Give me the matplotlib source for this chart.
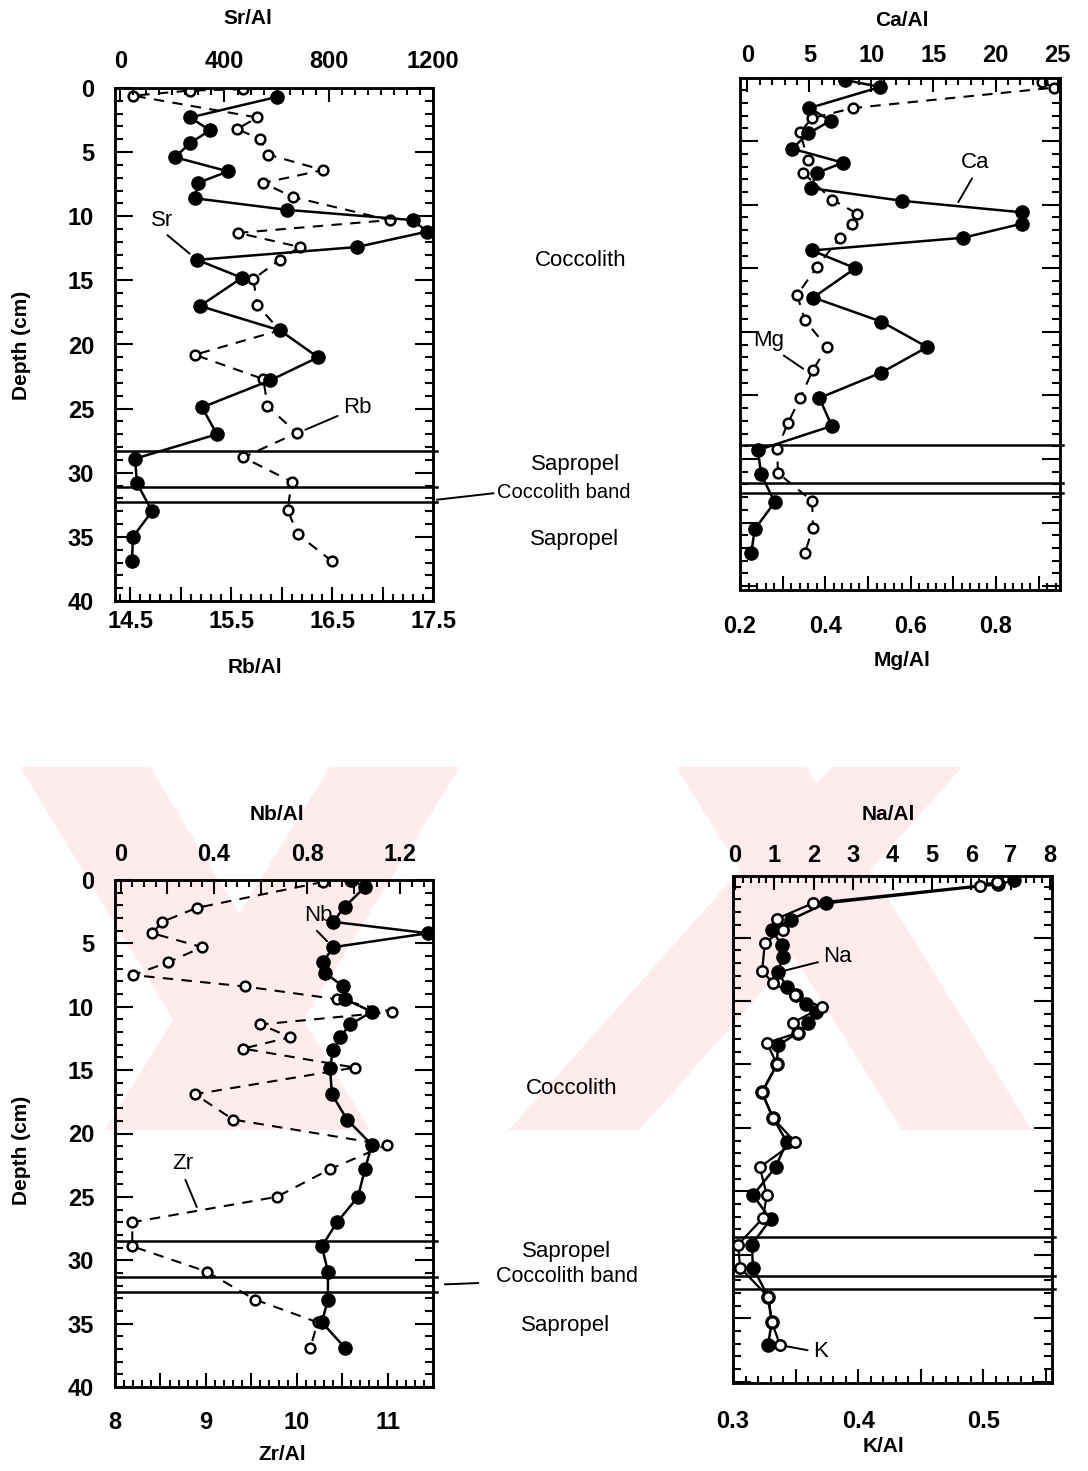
import matplotlib
matplotlib.use("Agg")
import matplotlib.pyplot as plt
import matplotlib.transforms as mtransforms
from matplotlib.ticker import MultipleLocator, FuncFormatter
from matplotlib.patches import Polygon

plt.rcParams['font.family'] = ['Liberation Sans', 'DejaVu Sans']
plt.rcParams['font.weight'] = 'bold'

W, H = 1088, 1471

# ---- Sr/Al (top axis) and Rb/Al (bottom axis) ----
sr_depth = [0.7, 2.3, 3.3, 4.3, 5.4, 6.5, 7.4, 8.6, 9.5, 10.3, 11.2, 12.4, 13.4,
            14.8, 17.0, 18.9, 21.0, 22.8, 24.9, 27.0, 28.9, 30.8, 33.0, 35.0, 36.9]
sr = [600, 268, 344, 268, 210, 414, 298, 287, 640, 1123, 1177, 908, 295,
      467, 306, 613, 759, 575, 314, 371, 57, 64, 122, 49, 45]
rb_depth = [0.1, 0.2, 0.6, 2.3, 3.2, 4.0, 5.2, 6.4, 7.4, 8.5, 10.3, 11.3, 12.4,
            13.4, 14.9, 16.9, 18.9, 20.8, 22.7, 24.8, 26.9, 28.8, 30.7, 32.9, 34.8, 36.9]
rb = [15.62, 15.09, 14.53, 15.76, 15.56, 15.79, 15.87, 16.41, 15.82, 16.11, 17.07,
      15.57, 16.18, 15.98, 15.72, 15.76, 15.98, 15.14, 15.82, 15.86, 16.15, 15.62,
      16.10, 16.06, 16.16, 16.50]

# ---- Ca/Al (top axis) and Mg/Al (bottom axis) ----
ca_depth = [0.2, 0.75, 2.4, 3.4, 4.4, 5.6, 6.7, 7.5, 8.7, 9.7, 10.6, 11.5, 12.6,
            13.6, 15.0, 17.3, 19.2, 21.2, 23.2, 25.2, 27.4, 29.3, 31.2, 33.4, 35.5, 37.4]
ca = [7.9, 10.7, 5.0, 6.7, 4.9, 3.6, 7.7, 5.6, 5.1, 12.5, 22.1, 22.1, 17.4,
      5.2, 8.7, 5.3, 10.8, 14.5, 10.8, 5.8, 6.8, 0.85, 1.1, 2.2, 0.6, 0.3]
mg_depth = [0.35, 0.8, 2.4, 3.2, 4.3, 6.5, 7.5, 9.6, 10.7, 11.5, 12.6, 14.9,
            17.1, 19.1, 21.2, 23.0, 25.2, 27.2, 29.2, 31.1, 33.3, 35.4, 37.4]
mg = [0.908, 0.936, 0.465, 0.369, 0.341, 0.359, 0.348, 0.416, 0.474, 0.462, 0.434,
      0.380, 0.334, 0.352, 0.404, 0.371, 0.341, 0.312, 0.287, 0.289, 0.369, 0.371, 0.352]

# ---- Nb/Al (top axis) and Zr/Al (bottom axis) ----
nb_depth = [0.0, 0.55, 2.1, 3.3, 4.2, 5.3, 6.5, 7.3, 8.4, 9.4, 10.4, 11.4, 12.4,
            13.4, 14.8, 16.9, 18.9, 20.9, 22.8, 25.0, 27.0, 28.9, 30.9, 33.1, 34.9, 36.9]
nb = [0.99, 1.048, 0.962, 0.911, 1.318, 0.911, 0.868, 0.876, 0.954, 0.962, 1.078,
      0.984, 0.941, 0.911, 0.898, 0.906, 0.971, 1.078, 1.048, 1.018, 0.928, 0.863,
      0.889, 0.889, 0.863, 0.962]
zr_depth = [0.15, 2.2, 3.3, 4.2, 5.3, 6.5, 7.5, 8.4, 9.4, 10.4, 11.4, 12.4, 13.3,
            14.8, 16.9, 18.9, 20.9, 22.8, 25.0, 27.0, 28.9, 30.9, 33.1, 34.9, 36.9]
zr = [10.29, 8.90, 8.52, 8.41, 8.96, 8.58, 8.20, 9.43, 10.44, 11.05, 9.60, 9.93, 9.41,
      10.64, 8.88, 9.30, 10.99, 10.37, 9.78, 8.19, 8.19, 9.01, 9.54, 10.23, 10.15]

# ---- Na/Al (top axis) and K/Al (bottom axis) ----
na_depth = [0.6, 0.9, 2.3, 3.5, 4.4, 5.4, 7.6, 8.6, 9.5, 10.5, 11.7, 12.5, 13.3,
            15.0, 17.2, 19.2, 21.1, 23.1, 25.3, 27.1, 29.2, 31.0, 33.3, 35.3, 37.1]
na = [6.65, 6.22, 1.98, 1.07, 1.22, 0.76, 0.69, 0.96, 1.52, 2.21, 1.47, 1.60, 0.81,
      1.07, 0.69, 0.96, 1.52, 0.63, 0.81, 0.71, 0.08, 0.13, 0.84, 0.94, 1.14]
k_depth = [0.5, 0.8, 2.3, 3.6, 4.4, 5.6, 6.5, 7.7, 8.9, 9.5, 10.2, 10.9, 11.7, 12.5,
           13.5, 15.0, 17.2, 19.2, 21.1, 23.1, 25.3, 27.2, 29.2, 31.0, 33.3, 35.3, 37.1]
k = [0.525, 0.512, 0.374, 0.346, 0.331, 0.339, 0.340, 0.336, 0.343, 0.350, 0.358,
     0.366, 0.360, 0.352, 0.336, 0.335, 0.323, 0.332, 0.343, 0.334, 0.316, 0.330,
     0.315, 0.316, 0.328, 0.331, 0.328]

# sapropel / coccolith band boundaries for each core section
bands_tl = [28.3, 31.15, 32.25]
bands_tr = [28.9, 31.85, 32.7]
bands_bl = [28.5, 31.3, 32.5]
bands_br = [28.6, 31.7, 32.7]


def px_box(x0, y0, x1, y1):
    return [x0 / W, 1 - y1 / H, (x1 - x0) / W, (y1 - y0) / H]


def fxy(x, y):
    return x / W, 1 - y / H


def label_every(step, first, fmt):
    def f(v, pos):
        n = (v - first) / step
        if abs(n - round(n)) < 1e-6:
            return '0' if abs(v) < 1e-9 else fmt.format(v)
        return ''
    return FuncFormatter(f)


def make_panel(box, ylim, bot_lim, top_lim, bot_major, bot_minor, top_major, top_minor,
               bot_fmt, top_fmt, depth_labels, bot_pad, top_pad):
    ax = fig.add_axes(px_box(*box))
    ax.patch.set_visible(False)
    ax.set_xlim(*bot_lim)
    ax.set_ylim(*ylim)
    top = ax.twiny()
    top.set_xlim(*top_lim)

    ax.yaxis.set_major_locator(MultipleLocator(5))
    ax.yaxis.set_minor_locator(MultipleLocator(1))
    ax.xaxis.set_major_locator(MultipleLocator(bot_major))
    ax.xaxis.set_minor_locator(MultipleLocator(bot_minor))
    ax.xaxis.set_major_formatter(bot_fmt)
    top.xaxis.set_major_locator(MultipleLocator(top_major))
    top.xaxis.set_minor_locator(MultipleLocator(top_minor))
    top.xaxis.set_major_formatter(top_fmt)

    ax.tick_params(axis='y', which='both', direction='in', left=True, right=True,
                   labelleft=depth_labels, width=1.5, pad=15, labelsize=17)
    ax.tick_params(axis='y', which='major', length=13)
    ax.tick_params(axis='y', which='minor', length=5.5)
    ax.tick_params(axis='x', which='both', direction='in', bottom=True, top=False,
                   width=1.5, pad=bot_pad, labelsize=17)
    ax.tick_params(axis='x', which='major', length=10)
    ax.tick_params(axis='x', which='minor', length=5)
    top.tick_params(axis='x', which='both', direction='in', top=True, bottom=False,
                    labeltop=True, labelbottom=False, width=1.5, pad=top_pad, labelsize=17)
    top.tick_params(axis='x', which='major', length=10)
    top.tick_params(axis='x', which='minor', length=5)
    for a in (ax, top):
        for s in a.spines.values():
            s.set_linewidth(1.8)
    return ax, top


def draw_bands(ax, depths, right=1.012):
    for d in depths:
        ax.axhline(d, xmin=0, xmax=right, color='black', lw=1.8, clip_on=False, zorder=1)


def tag(ax, text, xytext, xy, relpos=(0.5, 0.0), shrink=0):
    ax.annotate(text, xy=xy, xytext=xytext, textcoords='data', fontsize=16,
                fontweight='normal', ha='center', va='center', zorder=6,
                arrowprops=dict(arrowstyle='-', lw=1.4, color='black', relpos=relpos,
                                shrinkA=2, shrinkB=shrink))


solid = dict(color='black', lw=1.8, marker='o', ms=9.5, mfc='black', mec='black', zorder=4)
dashed = dict(color='black', lw=1.5, ls=(0, (5, 4)), marker='o', ms=7, mfc='white',
              mec='black', mew=1.8, zorder=3)

fig = plt.figure(figsize=(W / 100, H / 100), dpi=100)
fig.patch.set_facecolor('white')

# faint background watermark
for pts in [
    [(20, 767), (150, 767), (370, 1130), (240, 1130)],
    [(330, 767), (460, 767), (235, 1130), (105, 1130)],
    [(676, 767), (806, 767), (1032, 1130), (902, 1130)],
    [(832, 767), (962, 767), (639, 1130), (509, 1130)],
]:
    fig.add_artist(Polygon([fxy(x, y) for x, y in pts], closed=True, transform=fig.transFigure,
                           facecolor='#fdebee', edgecolor='none', zorder=-10))

# ---- upper left: Sr / Rb ----
ax, top = make_panel((115, 88, 433, 601), (40, 0), (14.35, 17.5), (-20, 1200),
                     0.5, 0.1, 400, 50,
                     label_every(1.0, 14.5, '{:.1f}'), label_every(400, 0, '{:.0f}'),
                     True, 6.5, 11)
draw_bands(ax, bands_tl)
ax.plot(rb, rb_depth, **dashed)
top.plot(sr, sr_depth, **solid)
tag(top, 'Sr', (160, 10.3), (295, 13.4), shrink=7)
tag(ax, 'Rb', (16.75, 24.9), (16.16, 26.9), relpos=(0.0, 0.2), shrink=6)
bt = mtransforms.blended_transform_factory(ax.transAxes, ax.transData)
ax.plot([1.013, 1.19], [32.1, 31.6], transform=bt, color='black', lw=1.4, clip_on=False)

# ---- upper right: Ca / Mg ----
ax, top = make_panel((740, 78, 1060, 590), (40.3, 0.04), (0.2, 0.95), (-0.6, 25.2),
                     0.1, 0.02, 5, 1,
                     label_every(0.2, 0.2, '{:.1f}'), label_every(5, 0, '{:.0f}'),
                     False, 18, 8)
draw_bands(ax, bands_tr, right=1.008)
ax.plot(mg, mg_depth, **dashed)
top.plot(ca, ca_depth, **solid)
tag(top, 'Ca', (18.35, 6.7), (17.0, 9.8))
tag(ax, 'Mg', (0.266, 20.7), (0.348, 22.9), relpos=(0.8, 0.0))

# ---- lower left: Nb / Zr ----
ax, top = make_panel((115, 880, 433, 1387), (40, 0), (8.0, 11.5), (-0.025, 1.34),
                     0.5, 0.1, 0.2, 0.05,
                     label_every(1.0, 8.0, '{:.0f}'), label_every(0.4, 0.0, '{:.1f}'),
                     True, 17, 10)
draw_bands(ax, bands_bl)
ax.plot(zr, zr_depth, **dashed)
top.plot(nb, nb_depth, **solid)
tag(top, 'Nb', (0.846, 2.8), (0.91, 5.3), relpos=(0.3, 0.0), shrink=6)
tag(ax, 'Zr', (8.75, 22.4), (8.9, 25.8))
bt = mtransforms.blended_transform_factory(ax.transAxes, ax.transData)
ax.plot([1.038, 1.142], [31.9, 31.8], transform=bt, color='black', lw=1.4, clip_on=False)

# ---- lower right: Na / K ----
ax, top = make_panel((733, 876, 1052, 1383), (40.1, 0.15), (0.3, 0.555), (-0.05, 8.05),
                     0.05, 0.01, 1, 0.2,
                     label_every(0.1, 0.3, '{:.1f}'), label_every(1, 0, '{:.0f}'),
                     False, 19.5, 6.5)
draw_bands(ax, bands_br, right=1.01)
ax.plot(k, k_depth, **solid)
top.plot(na, na_depth, color='black', lw=1.6, marker='o', ms=7.5, mfc='white',
         mec='black', mew=1.8, zorder=5)
tag(top, 'Na', (2.61, 6.5), (1.27, 7.6), relpos=(0.0, 0.3))
tag(ax, 'K', (0.370, 37.6), (0.337, 37.1), relpos=(0.0, 0.5), shrink=5)

# axis titles
for text, x, y in [('Sr/Al', 248, 18), ('Rb/Al', 255, 668), ('Ca/Al', 902, 20),
                   ('Mg/Al', 902, 660), ('Nb/Al', 277, 815), ('Zr/Al', 282, 1455),
                   ('Na/Al', 888, 815), ('K/Al', 883, 1447)]:
    fig.text(*fxy(x, y), text, ha='center', va='center', fontsize=15)
for y in (345, 1150):
    fig.text(*fxy(22, y), 'Depth (cm)', ha='center', va='center', rotation=90, fontsize=15)

# facies labels beside the left-hand columns
for text, x, y in [('Coccolith', 581, 260), ('Sapropel', 576, 465),
                   ('Sapropel', 575, 540), ('Coccolith', 572, 1088),
                   ('Sapropel', 567, 1251), ('Sapropel', 566, 1326)]:
    fig.text(*fxy(x, y), text, ha='center', va='center', fontsize=16, fontweight='normal')
fig.text(*fxy(497, 492), 'Coccolith band', ha='left', va='center', fontsize=14.5,
         fontweight='normal')
fig.text(*fxy(567, 1277), 'Coccolith band', ha='center', va='center', fontsize=15.5,
         fontweight='normal')

fig.savefig('out.png', dpi=100, facecolor='white')
